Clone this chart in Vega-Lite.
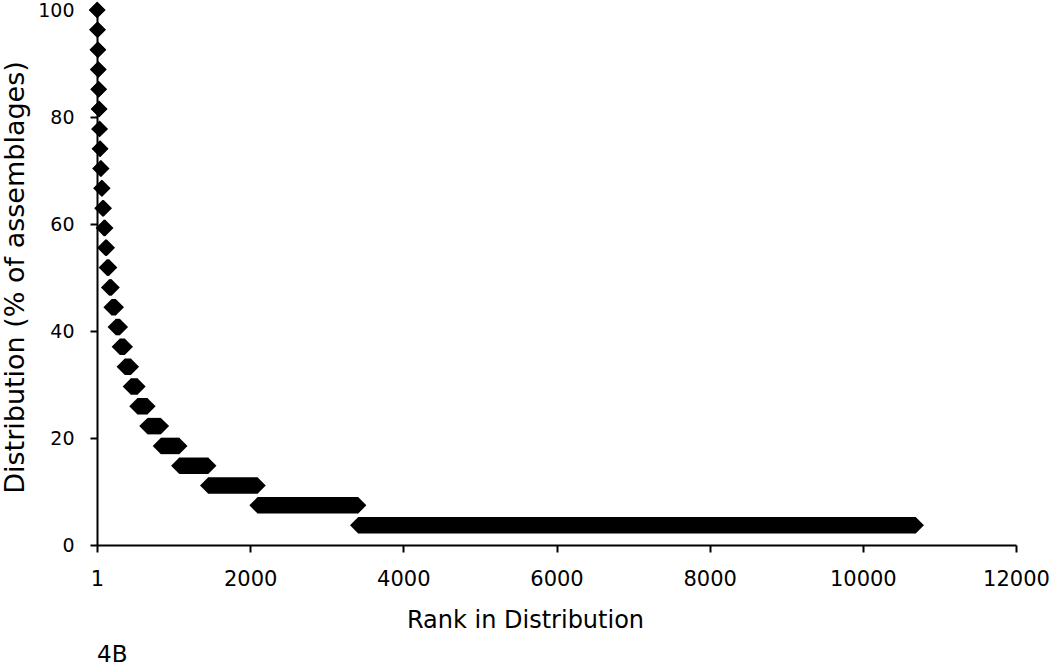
{
  "$schema": "https://vega.github.io/schema/vega-lite/v6.json",
  "width": 919,
  "height": 535,
  "autosize": "none",
  "padding": {"left": 97, "top": 10, "right": 34, "bottom": 123},
  "background": "white",
  "title": {
    "text": "4B",
    "orient": "bottom",
    "anchor": "start",
    "frame": "group",
    "font": "DejaVu Sans",
    "fontSize": 23,
    "fontWeight": "normal",
    "color": "black",
    "offset": 12
  },
  "data": {
    "values": [
      {"pct": 100, "start": 1, "end": 4},
      {"pct": 96.3, "start": 5, "end": 9},
      {"pct": 92.59, "start": 10, "end": 14},
      {"pct": 88.89, "start": 15, "end": 19},
      {"pct": 85.19, "start": 20, "end": 24},
      {"pct": 81.48, "start": 25, "end": 30},
      {"pct": 77.78, "start": 31, "end": 36},
      {"pct": 74.07, "start": 37, "end": 43},
      {"pct": 70.37, "start": 44, "end": 56},
      {"pct": 66.67, "start": 57, "end": 70},
      {"pct": 62.96, "start": 71, "end": 88},
      {"pct": 59.26, "start": 89, "end": 108},
      {"pct": 55.56, "start": 109, "end": 128},
      {"pct": 51.85, "start": 129, "end": 158},
      {"pct": 48.15, "start": 159, "end": 190},
      {"pct": 44.44, "start": 191, "end": 245},
      {"pct": 40.74, "start": 246, "end": 298},
      {"pct": 37.04, "start": 299, "end": 362},
      {"pct": 33.33, "start": 363, "end": 442},
      {"pct": 29.63, "start": 443, "end": 528},
      {"pct": 25.93, "start": 529, "end": 658},
      {"pct": 22.22, "start": 659, "end": 834},
      {"pct": 18.52, "start": 835, "end": 1074},
      {"pct": 14.81, "start": 1075, "end": 1452},
      {"pct": 11.11, "start": 1453, "end": 2096},
      {"pct": 7.41, "start": 2097, "end": 3410},
      {"pct": 3.7, "start": 3411, "end": 10690}
    ]
  },
  "encoding": {
    "y": {
      "field": "pct",
      "type": "quantitative",
      "scale": {"domain": [0, 100], "nice": false, "zero": true, "padding": 0},
      "title": "Distribution (% of assemblages)",
      "axis": {
        "values": [0, 20, 40, 60, 80, 100],
        "titleX": -74,
        "titleY": 267,
        "titleAngle": -90,
        "titleAlign": "center",
        "titleBaseline": "alphabetic"
      }
    }
  },
  "layer": [
    {
      "mark": {"type": "bar", "height": 16.5, "color": "black"},
      "encoding": {
        "x": {
          "field": "start",
          "type": "quantitative",
          "scale": {"domain": [0, 12000], "nice": false, "padding": 0},
          "title": "Rank in Distribution",
          "axis": {
            "values": [0, 2000, 4000, 6000, 8000, 10000, 12000],
            "format": "d",
            "labelExpr": "datum.value == 0 ? '1' : datum.label",
            "titleX": 428,
            "titleY": 82,
            "titleAlign": "center",
            "titleBaseline": "alphabetic"
          }
        },
        "x2": {"field": "end"}
      }
    },
    {
      "mark": {"type": "point", "shape": "diamond", "filled": true, "size": 272, "color": "black", "opacity": 1},
      "encoding": {
        "x": {"field": "start", "type": "quantitative", "title": "Rank in Distribution"}
      }
    },
    {
      "mark": {"type": "point", "shape": "diamond", "filled": true, "size": 272, "color": "black", "opacity": 1},
      "encoding": {
        "x": {"field": "end", "type": "quantitative", "title": "Rank in Distribution"}
      }
    }
  ],
  "config": {
    "view": {"stroke": null},
    "font": "DejaVu Sans",
    "axis": {
      "grid": false,
      "domainColor": "black",
      "domainWidth": 2,
      "tickColor": "black",
      "tickWidth": 2,
      "tickSize": 7,
      "labelFont": "DejaVu Sans",
      "labelColor": "black",
      "titleFont": "DejaVu Sans",
      "titleFontWeight": "normal",
      "titleColor": "black",
      "labelOverlap": false,
      "labelFlush": false
    },
    "axisX": {"labelPadding": 16, "labelFontSize": 21, "titleFontSize": 24},
    "axisY": {"labelPadding": 16, "labelFontSize": 19, "titleFontSize": 27}
  }
}
